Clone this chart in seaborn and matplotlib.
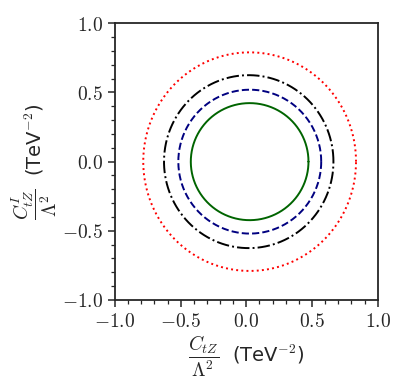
import numpy as np
import pandas as pd
import matplotlib
matplotlib.use('Agg')
import matplotlib.pyplot as plt
from matplotlib.ticker import MultipleLocator, FuncFormatter
import seaborn as sns

# contour levels: centre and half-widths
levels = ['green', 'blue', 'black', 'red']
center_x = [0.025, 0.026, 0.018, 0.025]
center_y = [0.0, 0.0, 0.0, 0.0]
half_x = [0.448, 0.544, 0.645, 0.810]
half_y = [0.423, 0.520, 0.625, 0.790]

colors = ['darkgreen', 'navy', 'black', 'red']
styles = ['-', '--', '-.', ':']

sns.set_style('ticks')
plt.rcParams['font.family'] = ['DejaVu Sans']
plt.rcParams['mathtext.fontset'] = 'cm'

fig = plt.figure(figsize=(4.07, 3.85), dpi=100)
ax = fig.add_axes([0.2826, 0.2208, 0.6454, 0.7187])

t = np.linspace(0, 2 * np.pi, 400)
for i, name in enumerate(levels):
    df = pd.DataFrame({
        'x': center_x[i] + half_x[i] * np.cos(t),
        'y': center_y[i] + half_y[i] * np.sin(t),
    })
    sns.lineplot(data=df, x='x', y='y', sort=False, estimator=None,
                 color=colors[i], linestyle=styles[i], linewidth=1.4, ax=ax)

ax.set_xlim(-1, 1)
ax.set_ylim(-1, 1)
ax.xaxis.set_major_locator(MultipleLocator(0.5))
ax.yaxis.set_major_locator(MultipleLocator(0.5))
ax.xaxis.set_minor_locator(MultipleLocator(0.1))
ax.yaxis.set_minor_locator(MultipleLocator(0.1))
fmt = FuncFormatter(lambda v, p: '$%.1f$' % v)
ax.xaxis.set_major_formatter(fmt)
ax.yaxis.set_major_formatter(fmt)
ax.tick_params(which='major', length=5, width=1.1, labelsize=14, direction='out')
ax.tick_params(which='minor', length=3, width=0.9, direction='out')
for s in ax.spines.values():
    s.set_linewidth(1.3)

ax.set_xlabel(r'$\dfrac{C_{tZ}}{\Lambda^2}$  (TeV$^{\mathsf{-2}}$)', fontsize=14, labelpad=2)
ax.set_ylabel(r'$\dfrac{C^I_{tZ}}{\Lambda^2}$  (TeV$^{\mathsf{-2}}$)', fontsize=14, labelpad=2)

fig.savefig('out.png', dpi=100)
